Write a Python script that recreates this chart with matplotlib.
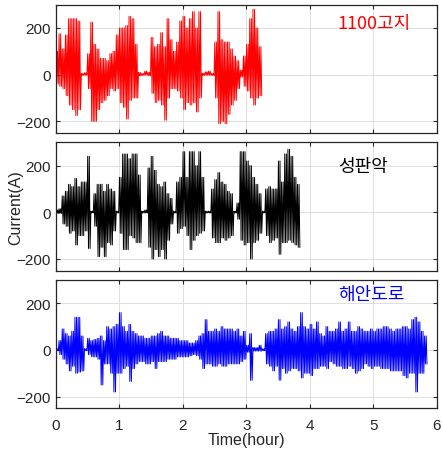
import numpy as np
import matplotlib
matplotlib.use("Agg")
import matplotlib.pyplot as plt

# per-bin (0.05 h) peak high / low current
dt = 0.05

hi_1100 = [100, 175, 110, 170, 240, 240, 240, 230, 5, 8,
           90, 225, 130, 110, 70, 70, 60, 90, 100, 170,
           200, 200, 210, 250, 240, 130, 10, 5, 15, 10,
           160, 120, 130, 180, 120, 240, 150, 100, 140, 230,
           250, 200, 240, 270, 200, 270, 5, 12, 15, 5,
           140, 270, 150, 140, 140, 110, 80, 60, 20, 80,
           130, 240, 280, 200, 120]
lo_1100 = [-40, -50, -60, -90, -130, -150, -175, -150, -3, -2,
           -60, -200, -200, -150, -120, -110, -90, -60, -70, -60,
           -120, -140, -190, -110, -100, -100, -5, -3, -2, -5,
           -80, -120, -110, -130, -195, -100, -60, -60, -70, -100,
           -150, -120, -130, -120, -160, -100, -3, -2, -3, -3,
           -100, -210, -200, -210, -170, -130, -110, -60, -10, -50,
           -70, -100, -130, -100, -90]

hi_sp = [10, 15, 70, 90, 120, 110, 145, 110, 130, 130,
         240, 5, 80, 120, 120, 90, 120, 100, 90, 5,
         150, 250, 250, 230, 250, 250, 160, 5, 10, 190,
         240, 180, 120, 110, 130, 80, 60, 5, 130, 150,
         260, 150, 260, 260, 200, 260, 150, 5, 5, 100,
         140, 170, 130, 120, 90, 80, 5, 40, 260, 260,
         220, 200, 150, 120, 80, 5, 100, 110, 100, 100,
         220, 130, 250, 270, 240, 150, 120]
lo_sp = [-5, -5, -50, -60, -90, -80, -140, -100, -100, -80,
         -155, -3, -60, -190, -150, -190, -130, -140, -80, -3,
         -90, -160, -160, -100, -110, -130, -130, -3, -3, -150,
         -200, -160, -190, -160, -200, -120, -50, -3, -90, -70,
         -60, -100, -160, -120, -100, -90, -80, -3, -3, -110,
         -130, -130, -110, -120, -110, -100, -3, -30, -120, -140,
         -130, -200, -130, -120, -90, -3, -100, -130, -120, -110,
         -180, -130, -130, -120, -130, -140, -150]

hi_coast = [5, 40, 90, 70, 60, 80, 140, 140, 60, 5,
            50, 40, 45, 50, 60, 40, 100, 90, 100, 110,
            160, 100, 80, 110, 80, 70, 60, 60, 50, 50,
            60, 60, 70, 80, 60, 60, 50, 50, 50, 40,
            40, 40, 30, 30, 40, 60, 70, 130, 80, 80,
            90, 80, 100, 90, 90, 90, 80, 90, 60, 80,
            20, 70, 10, 10, 20, 5, 70, 80, 80, 90,
            130, 90, 100, 120, 90, 80, 100, 160, 100, 90,
            110, 90, 120, 70, 60, 100, 80, 80, 90, 120,
            80, 90, 120, 80, 80, 100, 90, 80, 80, 90,
            80, 90, 90, 100, 100, 90, 80, 90, 90, 100,
            100, 90, 130, 140, 120, 80, 60]
lo_coast = [-3, -20, -40, -60, -90, -70, -100, -95, -90, -3,
            -20, -30, -30, -40, -150, -60, -60, -100, -180, -100,
            -100, -80, -70, -135, -80, -60, -50, -50, -60, -60,
            -50, -80, -50, -50, -50, -40, -40, -40, -30, -30,
            -30, -30, -25, -20, -25, -40, -80, -60, -60, -70,
            -70, -60, -70, -70, -60, -60, -60, -60, -50, -40,
            -10, -130, -5, -5, -5, -3, -60, -70, -90, -70,
            -130, -80, -100, -90, -80, -80, -90, -120, -100, -100,
            -110, -80, -80, -70, -70, -80, -50, -60, -70, -70,
            -80, -80, -70, -80, -100, -90, -80, -60, -70, -80,
            -70, -70, -80, -80, -80, -90, -90, -90, -90, -110,
            -120, -100, -100, -180, -100, -100, -60]

series = [(hi_1100, lo_1100, 'red', '1100고지'),
          (hi_sp, lo_sp, 'black', '성판악'),
          (hi_coast, lo_coast, 'blue', '해안도로')]

edge = (0.15, 0.15, 0.15)
plt.rcParams['font.family'] = ['Liberation Sans', 'DejaVu Sans']

fig = plt.figure(figsize=(4.43, 4.52), dpi=100)
bottoms = [0.7035, 0.399, 0.0945]
label_y = {'red': 0.857, 'black': 0.815, 'blue': 0.89}
axes = []
for (hi, lo, col, name), b in zip(series, bottoms):
    ax = fig.add_axes([0.1253, b, 0.861, 0.284])
    n = len(hi)
    t0 = np.arange(n) * dt
    # two swings between the high and low of each bin so it reads as dense
    k = 2
    offs = (np.arange(2 * k) + 0.5) / (2 * k) * dt
    t = (t0[:, None] + offs[None, :]).ravel()
    y = np.tile(np.column_stack([hi, lo]), (1, k)).ravel()
    ax.plot(t, y, color=col, lw=0.7)
    ax.set_xlim(0, 6)
    ax.set_ylim(-250, 300)
    ax.set_yticks([-200, 0, 200])
    ax.set_xticks(range(7))
    ax.grid(True, color=(0.85, 0.85, 0.85), lw=0.6)
    ax.set_axisbelow(True)
    for s in ax.spines.values():
        s.set_color(edge)
        s.set_linewidth(0.9)
    ax.tick_params(direction='in', top=True, right=True, length=3,
                   color=edge, labelcolor=edge, labelsize=11, width=0.8)
    ax.tick_params(axis='x', pad=7)
    ax.text(0.74, label_y[col], name,
            transform=ax.transAxes, color=col, fontsize=13,
            family=['Noto Sans CJK KR', 'DejaVu Sans'], ha='left', va='center')
    axes.append(ax)

for ax in axes[:2]:
    ax.tick_params(labelbottom=False)
axes[1].set_ylabel('Current(A)', fontsize=11.5, color=edge)
axes[1].yaxis.set_label_coords(-0.085, 0.5)
axes[2].set_xlabel('Time(hour)', fontsize=11.5, color=edge, labelpad=0)

fig.savefig('out.png', dpi=100)
